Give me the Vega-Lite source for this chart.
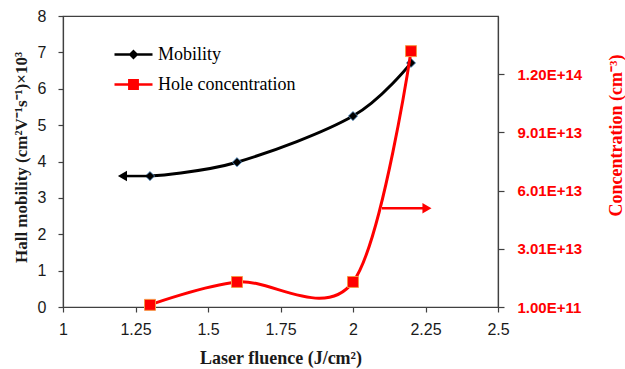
{
  "$schema": "https://vega.github.io/schema/vega-lite/v6.json",
  "width": 435,
  "height": 291,
  "autosize": {"type": "none"},
  "padding": {"left": 63, "top": 16, "right": 127, "bottom": 62},
  "background": "white",
  "config": {
    "view": {"stroke": "#404040", "strokeWidth": 1.2},
    "axis": {"grid": false, "domainColor": "#404040", "tickColor": "#404040", "domainWidth": 1.2, "tickWidth": 1.2, "labelOverlap": false, "labelFlush": false}
  },
  "datasets": {
    "mobility": [
      {"fluence": 1.3, "mobility": 3.6, "series": "Mobility"},
      {"fluence": 1.6, "mobility": 3.98, "series": "Mobility"},
      {"fluence": 2.0, "mobility": 5.25, "series": "Mobility"},
      {"fluence": 2.2, "mobility": 6.71, "series": "Mobility"}
    ],
    "holes": [
      {"fluence": 1.3, "conc": 1.2e12, "series": "Hole concentration"},
      {"fluence": 1.6, "conc": 1.3e13, "series": "Hole concentration"},
      {"fluence": 2.0, "conc": 1.3e13, "series": "Hole concentration"},
      {"fluence": 2.2, "conc": 1.32e14, "series": "Hole concentration"}
    ],
    "mobilityArrow": [
      {"fluence": 1.3, "mobility": 3.6},
      {"fluence": 1.215, "mobility": 3.6}
    ],
    "mobilityArrowHead": [
      {"fluence": 1.205, "mobility": 3.6}
    ],
    "holesArrow": [
      {"fluence": 2.1, "conc": 5.1e13},
      {"fluence": 2.245, "conc": 5.1e13}
    ],
    "holesArrowHead": [
      {"fluence": 2.255, "conc": 5.1e13}
    ]
  },
  "layer": [
    {
      "encoding": {
        "x": {
          "field": "fluence", "type": "quantitative",
          "scale": {"domain": [1, 2.5], "nice": false, "zero": false},
          "axis": {
            "title": "Laser fluence (J/cm²)",
            "values": [1, 1.25, 1.5, 1.75, 2, 2.25, 2.5],
            "labelExpr": "toString(datum.value)",
            "labelFont": "Liberation Sans", "labelFontSize": 16, "labelColor": "#1a1a1a",
            "labelPadding": 9, "tickSize": 5,
            "titleFont": "Liberation Serif", "titleFontSize": 18, "titleFontWeight": "bold", "titleColor": "#1a1a1a",
            "titleBaseline": "alphabetic", "titleY": 56
          }
        },
        "y": {
          "field": "mobility", "type": "quantitative",
          "scale": {"domain": [0, 8], "nice": false},
          "axis": {
            "title": "Hall mobility (cm²V⁻¹s⁻¹)×10³",
            "values": [0, 1, 2, 3, 4, 5, 6, 7, 8],
            "labelFont": "Liberation Sans", "labelFontSize": 16, "labelColor": "#1a1a1a",
            "labelPadding": 12, "tickSize": 5,
            "titleFont": "Liberation Serif", "titleFontSize": 17, "titleFontWeight": "bold", "titleColor": "#1a1a1a",
            "titleBaseline": "alphabetic", "titleAngle": -90, "titleX": -37, "titleY": 141
          }
        }
      },
      "layer": [
        {
          "data": {"name": "mobility"},
          "mark": {"type": "line", "interpolate": "cardinal", "strokeWidth": 3},
          "encoding": {
            "color": {
              "field": "series", "type": "nominal",
              "scale": {"domain": ["Mobility", "Hole concentration"], "range": ["#000000", "#ff0000"]},
              "legend": {
                "title": null,
                "orient": "none",
                "legendX": 50,
                "legendY": 18,
                "padding": 0,
                "rowPadding": -5,
                "symbolSize": 1444,
                "symbolStrokeWidth": 2.5,
                "labelFont": "Liberation Serif",
                "labelFontSize": 18,
                "labelColor": "#000000",
                "labelOffset": 4,
                "encode": {
                  "symbols": {
                    "update": {
                      "shape": {"signal": "datum.value === 'Mobility' ? 'M-1,0H1M0,-0.17L0.17,0L0,0.17L-0.17,0Z' : 'M-1,0H1M-0.22,-0.22H0.22V0.22H-0.22Z'"},
                      "fill": {"signal": "datum.value === 'Mobility' ? '#000000' : '#ff0000'"},
                      "stroke": {"signal": "datum.value === 'Mobility' ? '#000000' : '#ff0000'"},
                      "opacity": {"value": 1}
                    }
                  }
                }
              }
            }
          }
        },
        {
          "data": {"name": "mobility"},
          "mark": {"type": "point", "shape": "diamond", "filled": true, "size": 85, "fill": "#000000", "stroke": "#5b9bd5", "strokeWidth": 0.8, "opacity": 1}
        },
        {
          "data": {"name": "mobilityArrow"},
          "mark": {"type": "line", "color": "#000000", "strokeWidth": 2.5}
        },
        {
          "data": {"name": "mobilityArrowHead"},
          "mark": {"type": "point", "shape": "triangle-left", "filled": true, "size": 110, "color": "#000000", "opacity": 1}
        }
      ]
    },
    {
      "encoding": {
        "x": {"field": "fluence", "type": "quantitative"},
        "y": {
          "field": "conc", "type": "quantitative",
          "scale": {"domain": [1e11, 1.501e14], "nice": false, "zero": false},
          "axis": {
            "orient": "right",
            "title": "Concentration (cm⁻³)",
            "values": [1e11, 3.01e13, 6.01e13, 9.01e13, 1.2001e14],
            "labelExpr": "upper(format(datum.value, '.2e'))",
            "labelFont": "Liberation Sans", "labelFontSize": 15, "labelFontWeight": "bold", "labelColor": "#ff0000",
            "labelPadding": 13, "tickSize": 6,
            "titleFont": "Liberation Serif", "titleFontSize": 18, "titleFontWeight": "bold", "titleColor": "#ff0000",
            "titleBaseline": "alphabetic", "titleAngle": -90, "titleX": 123, "titleY": 119
          }
        }
      },
      "layer": [
        {
          "data": {"name": "holes"},
          "mark": {"type": "line", "interpolate": "cardinal", "strokeWidth": 3},
          "encoding": {
            "color": {"field": "series", "type": "nominal"}
          }
        },
        {
          "data": {"name": "holes"},
          "mark": {"type": "point", "shape": "square", "filled": true, "size": 120, "fill": "#ff0000", "stroke": "#f79646", "strokeWidth": 1, "opacity": 1}
        },
        {
          "data": {"name": "holesArrow"},
          "mark": {"type": "line", "color": "#ff0000", "strokeWidth": 2.5}
        },
        {
          "data": {"name": "holesArrowHead"},
          "mark": {"type": "point", "shape": "triangle-right", "filled": true, "size": 110, "color": "#ff0000", "opacity": 1}
        }
      ]
    }
  ],
  "resolve": {"scale": {"y": "independent"}}
}
